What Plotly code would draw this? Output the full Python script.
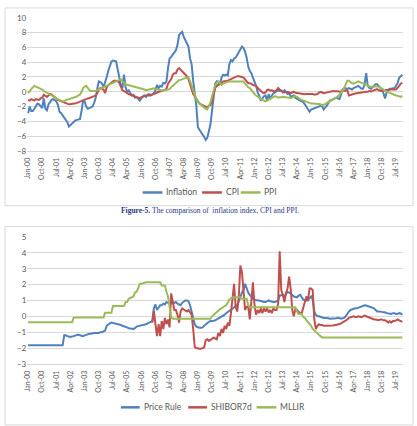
import plotly.graph_objects as go

# ---------------- data ----------------
MONTH_NAMES = ["Jan", "Feb", "Mar", "Apr", "May", "Jun",
               "Jul", "Aug", "Sep", "Oct", "Nov", "Dec"]
YEARS = list(range(2000, 2020))
months = [f"{m}-{y % 100:02d}" for y in YEARS for m in MONTH_NAMES][:239]  # Jan-00 .. Nov-19
tick_labels = months[::9]

inflation = [
    -2.9, -2.0, -2.6, -2.6, -2.3, -1.9, -1.6, -1.7, -2.0, -2.2, -0.9, -2.3,
    -2.5, -1.7, -1.4, -1.1, -1.0, -1.2, -1.3, -1.8, -2.7, -2.9, -3.2, -3.4,
    -3.8, -4.1, -4.7, -4.5, -4.2, -4.0, -3.9, -3.8, -3.8, -3.7, -2.6, -1.2,
    -1.3, -2.0, -2.3, -2.2, -2.1, -2.0, -1.5, -0.8, 0.4, 1.4, 1.3, 1.1,
    0.6, 1.2, 2.0, 2.8, 3.6, 4.1, 4.2, 4.2, 4.1, 3.0, 1.8, 0.9,
    0.5, 2.3, 0.6, 0.0, 0.2, -0.2, -0.5, -0.4, -0.8, -0.7, -0.9, -1.2,
    -0.9, -0.6, -0.5, -0.7, -0.4, -0.3, -0.5, -0.3, -0.2, 0.2, 0.9, 0.5,
    0.8, 0.7, 1.2, 1.1, 1.4, 3.2, 4.5, 4.7, 5.0, 5.3, 5.6, 6.3,
    7.6, 7.9, 8.1, 7.4, 7.0, 6.5, 6.1, 4.5, 3.7, 1.5, -0.3, -1.9,
    -4.8, -5.2, -5.4, -5.8, -6.1, -6.5, -6.2, -5.3, -4.4, -2.5, -0.9, 1.1,
    1.4, 1.3, 1.0, 1.9, 2.3, 2.2, 2.3, 2.2, 3.7, 4.3, 4.1, 4.5,
    4.6, 5.0, 5.2, 5.6, 6.1, 5.9, 5.4, 4.6, 3.4, 2.8, 2.5, 1.9,
    1.45, 0.8, -0.1, -0.5, -1.2, -0.9, -0.6, -0.5, -1.2, -0.3, -1.0, -0.5,
    -0.2, -0.1, 0.0, 0.2, 0.1, 0.1, -0.1, 0.2, 0.0, -0.3, -0.2, -0.7,
    -0.6, -0.5, -0.8, -1.0, -1.1, -1.2, -1.3, -1.4, -1.7, -2.1, -2.5, -2.7,
    -2.4, -2.3, -2.3, -2.2, -2.1, -2.0, -1.9, -2.0, -2.4, -2.1, -1.9, -1.5,
    -1.2, -1.1, -1.0, -0.9, -0.8, -0.9, -1.0, -0.4, 0.3, 0.5, 0.4, 0.4,
    0.5, 0.4, 0.3, 0.5, 0.6, 0.7, 0.8, 0.6, 0.4, 0.4, 1.0, 2.5,
    0.8, 0.5, 0.4, 0.6, 0.8, 1.0, 1.0, 0.8, 0.6, 0.3, -0.2, -0.9,
    -0.1, 0.2, 0.4, 0.4, 0.4, 0.5, 0.8, 1.2, 1.9, 2.1, 2.3,
]

cpi = [
    -1.1, -1.2, -1.0, -1.1, -1.2, -1.0, -1.0, -1.1, -0.9, -0.8, -0.4, -0.6,
    -0.7, -0.5, -0.3, -0.4, -0.6, -0.8, -1.0, -1.1, -1.2, -1.3, -1.4, -1.5,
    -1.5, -1.6, -1.7, -1.7, -1.6, -1.6, -1.6, -1.5, -1.5, -1.4, -1.3, -1.2,
    -1.1, -1.0, -0.9, -0.85, -0.8, -0.7, -0.6, -0.5, -0.2, 0.3, 0.5, 0.4,
    0.3, -0.2, 0.6, 0.9, 1.1, 1.3, 1.4, 1.5, 1.5, 1.4, 1.2, 0.8,
    0.2, 0.1, -0.1, -0.2, -0.3, -0.4, -0.5, -0.6, -0.65, -0.7, -0.8, -0.85,
    -0.8, -0.7, -0.6, -0.5, -0.55, -0.5, -0.45, -0.4, -0.3, -0.2, -0.1, 0.0,
    0.1, 0.15, 0.2, 0.25, 0.4, 1.1, 1.45, 1.7, 2.3, 2.5, 2.5, 3.0,
    3.2, 3.0, 2.8, 2.5, 2.3, 2.1, 1.7, 1.0, 0.1, -0.3, -0.6, -1.0,
    -1.3, -1.6, -1.7, -1.8, -1.9, -2.0, -2.1, -1.9, -1.8, -1.2, -0.3, 0.5,
    0.8, 0.9, 1.1, 1.2, 1.4, 1.4, 1.5, 1.5, 1.6, 1.7, 1.8, 2.0,
    2.0, 2.1, 2.1, 2.1, 2.0, 1.9, 1.6, 1.4, 1.15, 1.15, 1.1, 0.9,
    0.9, 0.8, 0.5, 0.3, 0.05, -0.1, -0.2, -0.1, 0.25, 0.3, 0.15, 0.2,
    0.1, 0.0, 0.2, 0.5, 0.3, 0.2, 0.0, -0.1, -0.05, 0.0, -0.1, -0.2,
    -0.1, 0.0, -0.15, -0.2, -0.25, -0.3, -0.35, -0.4, -0.35, -0.3, -0.3, -0.2,
    -0.2, -0.3, -0.4, -0.35, -0.3, -0.1, 0.0, -0.1, -0.2, -0.15, -0.1, 0.0,
    0.0, 0.1, 0.1, 0.05, 0.1, 0.05, 0.0, 0.05, 0.1, 0.1, 0.2, 0.2,
    -0.5, -0.4, -0.35, -0.3, -0.25, -0.2, -0.2, -0.15, -0.1, -0.1, -0.05, 0.0,
    0.0, 0.1, 0.05, 0.1, 0.15, 0.3, 0.35, 0.2, 0.1, 0.15, 0.2, 0.2,
    0.25, 0.35, 0.3, 0.3, 0.35, 0.3, 0.3, 0.5, 0.8, 1.1, 1.2,
]

ppi = [
    -0.2, 0.1, 0.4, 0.6, 0.8, 0.7, 0.65, 0.6, 0.5, 0.3, 0.1, 0.0,
    -0.1, -0.2, -0.35, -0.5, -0.6, -0.8, -0.9, -1.0, -1.1, -1.2, -1.3, -1.25,
    -1.1, -1.05, -1.0, -0.95, -0.9, -0.85, -0.75, -0.65, -0.5, -0.4, 0.0, 0.5,
    0.7, 0.8, 0.5, 0.2, 0.1, 0.05, 0.1, 0.1, 0.2, 0.3, 0.5, 0.6,
    0.6, 0.7, 0.8, 0.9, 1.0, 1.1, 1.2, 1.3, 1.45, 1.55, 1.6, 1.7,
    1.4, 1.2, 1.0, 0.95, 0.9, 0.85, 0.8, 0.75, 0.7, 0.65, 0.6, 0.55,
    0.5, 0.4, 0.3, 0.2, 0.25, 0.35, 0.45, 0.5, 0.45, 0.35, 0.3, 0.25,
    0.2, 0.2, 0.15, 0.2, 0.25, 0.3, 0.35, 0.6, 0.8, 1.0, 1.15, 1.3,
    1.55, 1.6, 1.7, 1.8, 1.9, 1.9, 2.0, 1.45, 0.8, 0.1, -0.5, -1.0,
    -1.4, -1.6, -1.8, -2.0, -2.1, -2.3, -2.4, -2.0, -1.4, -0.6, 0.3, 0.9,
    1.2, 1.4, 1.2, 0.9, 1.1, 1.2, 1.3, 1.4, 1.4, 1.4, 1.4, 1.45,
    1.5, 1.5, 1.5, 1.5, 1.45, 1.4, 1.1, 0.8, 0.6, 0.5, 0.2, -0.1,
    -0.3, -0.5, -0.6, -0.8, -1.0, -1.1, -1.3, -1.3, -1.2, -1.1, -0.9, -0.85,
    -0.7, -0.6, -0.7, -0.8, -0.75, -0.7, -0.7, -0.7, -0.75, -0.8, -0.85, -0.85,
    -0.8, -0.7, -0.6, -0.7, -0.9, -1.0, -1.1, -1.2, -1.3, -1.4, -1.5, -1.55,
    -1.6, -1.6, -1.6, -1.6, -1.7, -1.7, -1.7, -1.8, -1.8, -1.7, -1.5, -1.4,
    -1.3, -1.1, -1.0, -0.9, -0.8, -0.6, -0.4, -0.2, 0.1, 0.5, 0.9, 1.5,
    1.5, 1.3, 1.15, 1.1, 1.2, 1.3, 1.4, 1.3, 1.2, 1.1, 0.95, 0.85,
    0.8, 0.7, 0.65, 0.7, 0.75, 0.8, 0.75, 0.7, 0.6, 0.45, 0.3, 0.1,
    0.0, -0.1, -0.15, -0.2, -0.3, -0.4, -0.5, -0.55, -0.65, -0.7, -0.55,
]

price_rule = [
    -1.82, -1.82, -1.82, -1.82, -1.82, -1.82, -1.82, -1.82, -1.82, -1.82, -1.82, -1.82,
    -1.82, -1.82, -1.82, -1.82, -1.82, -1.82, -1.82, -1.82, -1.82, -1.82, -1.82, -1.2,
    -1.2, -1.25, -1.3, -1.3, -1.28, -1.25, -1.2, -1.2, -1.15, -1.2, -1.22, -1.25,
    -1.2, -1.15, -1.15, -1.1, -1.1, -1.05, -1.05, -1.05, -1.05, -1.05, -1.0, -1.0,
    -0.95, -0.9, -0.6, -0.5, -0.45, -0.4, -0.42, -0.45, -0.45, -0.48, -0.5, -0.55,
    -0.6, -0.62, -0.65, -0.7, -0.75, -0.78, -0.8, -0.8, -0.75, -0.65, -0.62, -0.6,
    -0.6, -0.58, -0.55, -0.5, -0.45, -0.4, -0.35, -0.3, 0.5, 0.75, 0.4, 0.6,
    0.7, 0.7, 0.8, 0.75, 0.9, 0.85, 0.85, 0.8, 0.9, 0.85, 0.9, 0.8,
    0.75, 0.7, 0.85, 0.95, 1.0, 1.0, 0.95, 0.7, 0.3, -0.2, -0.5, -0.65,
    -0.7, -0.72, -0.72, -0.7, -0.6, -0.5, -0.4, -0.35, -0.3, -0.3, -0.28, -0.25,
    -0.2, -0.15, -0.1, 0.0, 0.05, 0.1, 0.2, 0.3, 0.35, 0.4, 0.5, 0.6,
    0.65, 0.7, 0.9, 1.2, 1.5, 1.65, 2.05, 1.75, 1.5, 1.35, 1.2, 1.1,
    1.05, 1.0, 1.0, 1.0, 0.95, 0.9, 0.9, 0.9, 0.95, 1.0, 0.95, 0.9,
    0.9, 0.9, 0.95, 1.0, 1.3, 1.35, 1.35, 1.25, 1.4, 1.55, 1.5, 1.45,
    1.35, 1.25, 1.2, 1.2, 1.3, 1.35, 1.2, 1.05, 1.0, 1.0, 1.0, 1.15,
    1.25, 1.05, 0.3, 0.1, 0.0, 0.0, -0.05, -0.05, -0.1, -0.1, -0.1, -0.12,
    -0.15, -0.15, -0.15, -0.15, -0.12, -0.1, -0.12, -0.15, -0.12, -0.1, 0.0, 0.2,
    0.3, 0.4, 0.45, 0.5, 0.5, 0.5, 0.55, 0.6, 0.62, 0.68, 0.7, 0.68,
    0.65, 0.62, 0.58, 0.55, 0.5, 0.4, 0.3, 0.3, 0.3, 0.28, 0.25, 0.25,
    0.2, 0.18, 0.15, 0.15, 0.2, 0.2, 0.15, 0.15, 0.2, 0.18, 0.1,
]

shibor_start = "Aug-06"
shibor7d = [
    -0.4, 0.35, -0.5, -1.25, -0.5,
    -1.25, -0.3, -0.8, -0.1, -0.5, -0.2, -0.7, 1.45, 0.8, 0.4, 0.4, 0.1,
    -0.4, 0.3, 0.5, 0.45, 0.35, 0.3, 0.4, 0.25, 0.1, -0.8, -1.95, -2.0,
    -2.05, -2.05, -2.05, -2.0, -1.95, -1.5, -1.45, -1.55, -1.5, -1.4, -1.35, -1.4,
    -1.45, -1.05, -1.25, -0.8, -1.05, -0.6, -0.8, -0.4, -0.6, 0.2, 1.25, 2.05,
    0.6, 0.3, 1.25, 3.2, 2.8, 1.45, 0.4, 0.6, 0.6, -0.2, 1.05, 2.15,
    0.7, 0.1, 0.4, 0.2, 0.5, 0.2, 0.5, 0.3, 0.5, 0.25, 0.4, 0.2,
    0.5, 0.4, 0.4, 0.8, 4.1, 1.65, 1.35, 0.9, 1.45, 1.75, 2.5, 1.75,
    0.4, 0.0, 0.5, 0.4, 0.3, 0.2, 0.2, 0.6, 0.9, 1.25, 1.0, 1.75,
    1.75, 1.65, -0.2, -0.8, -0.6, -0.5, -0.55, -0.55, -0.6, -0.6, -0.6, -0.6,
    -0.6, -0.6, -0.58, -0.55, -0.55, -0.5, -0.5, -0.45, -0.4, -0.35, -0.3, -0.2,
    -0.1, -0.05, 0.0, 0.0, -0.05, -0.05, 0.0, -0.05, -0.05, 0.0, 0.05, 0.0,
    -0.05, -0.1, -0.1, -0.15, -0.2, -0.2, -0.25, -0.25, -0.2, -0.2, -0.25, -0.25,
    -0.3, -0.4, -0.3, -0.4, -0.3, -0.3, -0.25, -0.2, -0.25, -0.3, -0.35,
]

mllir = [
    -0.38, -0.38, -0.38, -0.38, -0.38, -0.38, -0.38, -0.38, -0.38, -0.38, -0.38, -0.38,
    -0.38, -0.38, -0.38, -0.38, -0.38, -0.38, -0.38, -0.38, -0.38, -0.38, -0.38, -0.38,
    -0.38, -0.38, -0.38, -0.38, -0.38, -0.07, -0.07, -0.07, -0.07, -0.07, -0.07, -0.07,
    -0.07, -0.07, -0.07, -0.07, -0.07, -0.07, -0.07, -0.07, -0.07, -0.07, -0.07, -0.07,
    -0.07, 0.22, 0.22, 0.22, 0.22, 0.22, 0.65, 0.65, 0.65, 0.65, 0.65, 0.65,
    0.65, 0.65, 0.9, 0.9, 1.1, 1.15, 1.2, 1.25, 1.5, 1.55, 1.75, 2.05,
    2.05, 2.1, 2.15, 2.15, 2.15, 2.15, 2.15, 2.15, 2.15, 2.15, 2.15, 2.15,
    2.15, 1.95, 1.95, 1.95, 1.55, 1.25, 0.6, -0.1, -0.15, -0.15, -0.15, -0.15,
    -0.15, -0.15, -0.15, -0.15, -0.15, -0.15, -0.15, -0.15, -0.15, -0.15, -0.15, -0.15,
    -0.15, -0.15, -0.15, -0.15, -0.15, -0.15, -0.15, -0.15, -0.15, 0.0, 0.1, 0.2,
    0.3, 0.4, 0.45, 0.5, 0.6, 0.65, 0.7, 0.9, 1.05, 1.15, 1.2, 1.2,
    1.2, 1.2, 1.2, 1.2, 1.1, 1.1, 1.1, 1.1, 0.7, 0.57, 0.57, 0.57,
    0.57, 0.57, 0.57, 0.57, 0.57, 0.57, 0.57, 0.57, 0.57, 0.57, 0.57, 0.57,
    0.57, 0.57, 0.57, 0.57, 0.57, 0.57, 0.57, 0.57, 0.57, 0.57, 0.57, 0.57,
    0.57, 0.57, 0.57, 0.3, 0.15, 0.15, 0.15, -0.05, -0.1, -0.25, -0.35, -0.5,
    -0.6, -0.8, -0.9, -1.0, -1.1, -1.2, -1.25, -1.33, -1.33, -1.33, -1.33, -1.33,
    -1.33, -1.33, -1.33, -1.33, -1.33, -1.33, -1.33, -1.33, -1.33, -1.33, -1.33, -1.33,
    -1.33, -1.33, -1.33, -1.33, -1.33, -1.33, -1.33, -1.33, -1.33, -1.33, -1.33, -1.33,
    -1.33, -1.33, -1.33, -1.33, -1.33, -1.33, -1.33, -1.33, -1.33, -1.33, -1.33, -1.33,
    -1.33, -1.33, -1.33, -1.33, -1.33, -1.33, -1.33, -1.33, -1.33, -1.33, -1.33,
]

caption_bold = "Figure-5."
caption_text = "The comparison of  inflation index, CPI and PPI."

# ---------------- styling ----------------
W, H = 417, 426
BLUE, RED, GREEN = "#4F81BD", "#C0504D", "#9BBB59"
GRID = "#D9D9D9"
TXT = "#595959"
FONT = "Lato, 'Open Sans', sans-serif"


def px(x):
    return x / W


def py(y):
    return 1 - y / H


fig = go.Figure()
top = [("Inflation", inflation, BLUE), ("CPI", cpi, RED), ("PPI", ppi, GREEN)]
for name, vals, col in top:
    fig.add_trace(go.Scatter(x=months[:len(vals)], y=vals, name=name, mode="lines",
                             line=dict(color=col, width=2), xaxis="x", yaxis="y"))

s0 = months.index(shibor_start)
bottom = [("Price Rule", months, price_rule, BLUE),
          ("SHIBOR7d", months[s0:s0 + len(shibor7d)], shibor7d, RED),
          ("MLLIR", months, mllir, GREEN)]
for name, xs, vals, col in bottom:
    fig.add_trace(go.Scatter(x=xs, y=vals, name=name, mode="lines",
                             line=dict(color=col, width=2), xaxis="x2", yaxis="y2"))

xcommon = dict(type="category", categoryorder="array", categoryarray=months,
               range=[-0.5, len(months) - 0.5], tickmode="array", tickvals=tick_labels,
               tickangle=-90, tickfont=dict(size=7, color=TXT, family=FONT),
               ticklabelstandoff=3,
               showgrid=False, showline=True, linecolor=GRID, linewidth=1,
               ticks="", zeroline=False, fixedrange=True)
ycommon = dict(gridcolor=GRID, gridwidth=1, zeroline=False, showline=False,
               tickfont=dict(size=8, color=TXT, family=FONT), ticks="", fixedrange=True)

fig.update_layout(
    width=W, height=H, margin=dict(l=0, r=0, t=0, b=0),
    paper_bgcolor="white", plot_bgcolor="white", showlegend=False,
    font=dict(family=FONT, color=TXT),
    xaxis=dict(domain=[px(23.5), px(403)], anchor="y", **xcommon),
    yaxis=dict(domain=[py(149.5), py(13)], range=[-8, 10], dtick=2, anchor="x", **ycommon),
    xaxis2=dict(domain=[px(23.5), px(403)], anchor="y2", **xcommon),
    yaxis2=dict(domain=[py(367.5), py(237.6)], range=[-3, 5], dtick=1, anchor="x2", **ycommon),
)

shapes = [
    dict(type="rect", xref="paper", yref="paper", x0=px(1), x1=px(413), y0=py(205.5), y1=py(3),
         line=dict(color=GRID, width=1), fillcolor="rgba(0,0,0,0)", layer="below"),
    dict(type="rect", xref="paper", yref="paper", x0=px(1), x1=px(413), y0=py(430), y1=py(227),
         line=dict(color=GRID, width=1), fillcolor="rgba(0,0,0,0)", layer="below"),
]
annotations = []

legend_top = [("Inflation", BLUE, 140, 160), ("CPI", RED, 200, 220), ("PPI", GREEN, 239, 259)]
legend_bot = [("Price Rule", BLUE, 118, 137), ("SHIBOR7d", RED, 186, 205), ("MLLIR", GREEN, 255, 275)]
for items, ly in ((legend_top, 192), (legend_bot, 412)):
    for name, col, x0, x1 in items:
        shapes.append(dict(type="line", xref="paper", yref="paper", x0=px(x0), x1=px(x1),
                           y0=py(ly), y1=py(ly), line=dict(color=col, width=2.5)))
        annotations.append(dict(xref="paper", yref="paper", x=px(x1 + 2), y=py(ly), text=name,
                                showarrow=False, xanchor="left", yanchor="middle",
                                font=dict(size=8.5, color=TXT, family=FONT)))

annotations.append(dict(
    xref="paper", yref="paper", x=px(208), y=py(210.5), showarrow=False,
    xanchor="center", yanchor="middle",
    text=f"<b>{caption_bold}</b> {caption_text}",
    font=dict(size=7.5, color="#25388A", family="'Liberation Serif', 'DejaVu Serif', serif")))

fig.update_layout(shapes=shapes, annotations=annotations)
fig.write_html("out.html")
